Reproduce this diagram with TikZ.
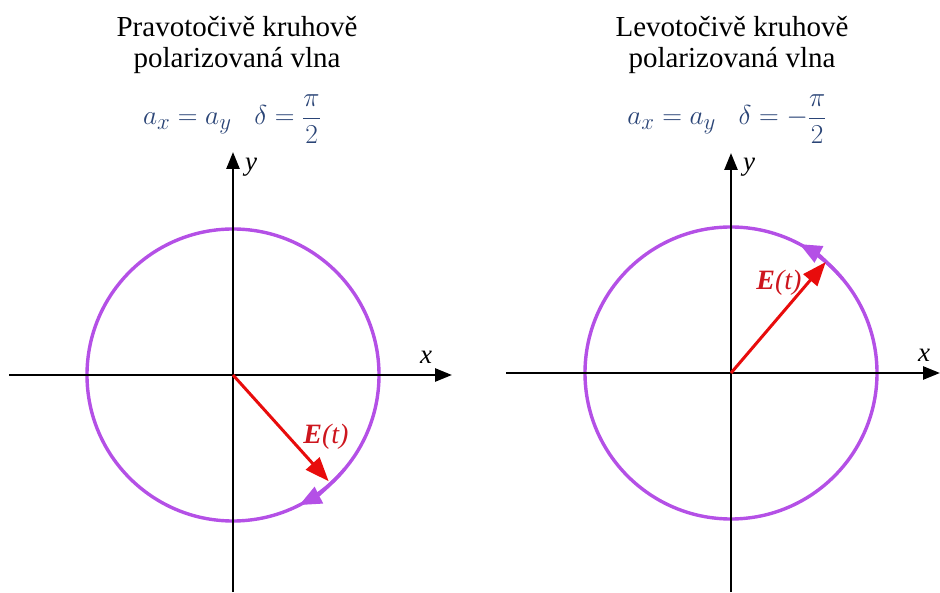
\documentclass[tikz,border=0pt]{standalone}
\usepackage{fontspec}
\setmainfont{Liberation Serif}
\usetikzlibrary{arrows.meta}
\definecolor{circcol}{RGB}{180,80,230}
\definecolor{veccol}{RGB}{232,12,12}
\definecolor{eqcol}{RGB}{42,68,118}
\definecolor{labcol}{RGB}{205,22,30}
\begin{document}
\begin{tikzpicture}[x=1pt,y=1pt,
  axis/.style={line width=2.6pt,black,-{Triangle[length=17pt,width=13pt]}},
  ring/.style={line width=3.4pt,circcol},
  ringtip/.style={line width=3.4pt,circcol,-{Triangle[length=22pt,width=18pt]}},
  vector/.style={line width=3pt,veccol,-{Triangle[length=24pt,width=18pt]}},
  title/.style={align=center,inner sep=0pt,anchor=north,font=\fontsize{29}{31}\selectfont},
  eq/.style={inner sep=0pt,anchor=base,text=eqcol,scale=1.1,transform shape,font=\fontsize{24.88}{30}\selectfont},
  axlab/.style={inner sep=0pt,font=\fontsize{27}{30}\selectfont\itshape},
  elab/.style={inner sep=0pt,text=labcol,font=\fontsize{28}{30}\selectfont}]
\useasboundingbox (0,0) rectangle (940,592);
% ---------- left diagram ----------
\coordinate (cL) at (233,217);
\coordinate (xLs) at (9,217);
\coordinate (xLe) at (452,217);
\coordinate (yLs) at (233,0);
\coordinate (yLe) at (233,440);
\draw[ring] (cL) circle[radius=146];
\draw[axis] (xLs) -- (xLe);
\draw[axis] (yLs) -- (yLe);
\draw[ringtip] ([shift={(-40:146)}]cL) arc[start angle=-40,end angle=-63,radius=146];
\coordinate (vL) at ([shift={(-48:143)}]cL);
\draw[vector] (cL) -- (vL);
\node[title] (tL) at (237,576) {Pravotočivě kruhově\\polarizovaná vlna};
\node[eq] (eL) at (232,467) {$a_x = a_y\;\;\; \delta = \displaystyle\frac{\pi}{2}$};
\node[axlab] (lxL) at (426,235) {x};
\node[axlab] (lyL) at (251,425) {y};
\node[elab] (ELab) at (326,155) {\textbf{\textit{E}}\textit{(t)}};
% ---------- right diagram ----------
\coordinate (cR) at (731,219);
\coordinate (xRs) at (506,219);
\coordinate (xRe) at (940,219);
\coordinate (yRs) at (731,0);
\coordinate (yRe) at (731,439);
\draw[ring] (cR) circle[radius=146];
\draw[axis] (xRs) -- (xRe);
\draw[axis] (yRs) -- (yRe);
\draw[ringtip] ([shift={(40:146)}]cR) arc[start angle=40,end angle=62,radius=146];
\coordinate (vR) at ([shift={(49.5:146)}]cR);
\draw[vector] (cR) -- (vR);
\node[title] (tR) at (732,576) {Levotočivě kruhově\\polarizovaná vlna};
\node[eq] (eR) at (727,467) {$a_x = a_y\;\;\; \delta = -\displaystyle\frac{\pi}{2}$};
\node[axlab] (lxR) at (924,237) {x};
\node[axlab] (lyR) at (749,425) {y};
\node[elab] (ERab) at (779,309) {\textbf{\textit{E}}\textit{(t)}};
\end{tikzpicture}
\end{document}
